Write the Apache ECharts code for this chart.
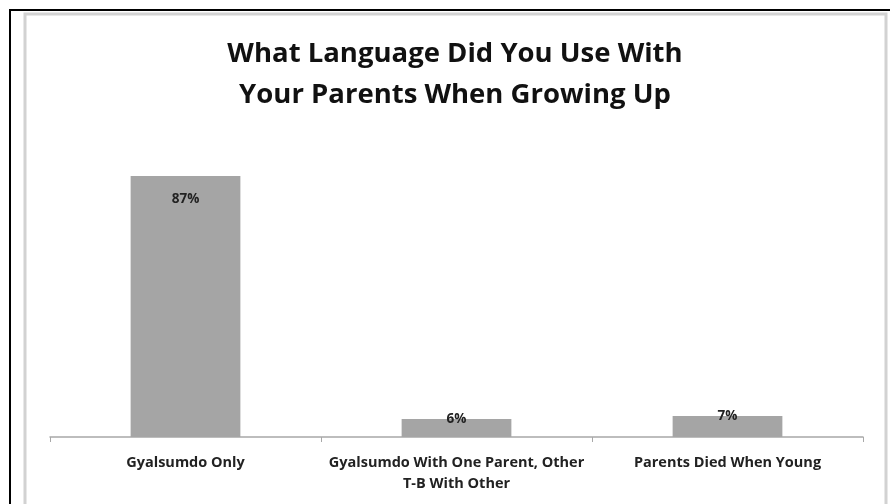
<!DOCTYPE html>
<html>
<head>
<meta charset="utf-8">
<script src="https://cdn.jsdelivr.net/npm/echarts@6/dist/echarts.min.js"></script>
<style>
html,body{margin:0;padding:0;background:#fff;}
#chart{width:890px;height:504px;}
</style>
</head>
<body>
<div id="chart"></div>
<script>
const titleText = 'What Language Did You Use With\nYour Parents When Growing Up';
const categories = ['Gyalsumdo Only', 'Gyalsumdo With One Parent, Other\nT-B With Other', 'Parents Died When Young'];
const values = [87, 6, 7];
const labelTexts = ['87%', '6%', '7%'];

const chart = echarts.init(document.getElementById('chart'));
const font = '"Open Sans", Lato, sans-serif';
chart.setOption({
  animation: false,
  backgroundColor: '#fff',
  title: {
    text: titleText,
    left: 450,
    textAlign: 'center',
    top: 29,
    textStyle: { fontFamily: font, fontSize: 27.5, fontWeight: 'bold', color: '#111', lineHeight: 41 }
  },
  grid: { left: 50, right: 27, top: 137, bottom: 67, containLabel: false },
  xAxis: {
    type: 'category',
    data: categories,
    axisLine: { lineStyle: { color: '#a8a8a8', width: 1.5 } },
    axisTick: { show: true, length: 5, lineStyle: { color: '#a8a8a8' } },
    axisLabel: { fontFamily: font, fontSize: 14.5, fontWeight: 'bold', color: '#222', margin: 15, lineHeight: 21, interval: 0 }
  },
  yAxis: {
    type: 'value', min: 0, max: 100, show: false,
    splitLine: { show: false }
  },
  series: [{
    type: 'bar',
    barWidth: '40.5%',
    itemStyle: { color: '#a5a5a5' },
    data: values.map((v, i) => ({
      value: v,
      label: {
        show: true,
        position: 'insideTop',
        distance: i === 0 ? 16 : -7,
        formatter: labelTexts[i],
        fontFamily: font, fontSize: 13.5, fontWeight: 'bold', color: '#222'
      }
    }))
  }],
  graphic: [
    { type: 'rect', shape: { x: 25, y: 14, width: 861, height: 520 }, style: { fill: 'none', stroke: '#d2d2d2', lineWidth: 3 }, silent: true },
    { type: 'line', shape: { x1: 10, y1: 10, x2: 890, y2: 10 }, style: { stroke: '#000', lineWidth: 2 }, silent: true },
    { type: 'line', shape: { x1: 10, y1: 9, x2: 10, y2: 504 }, style: { stroke: '#000', lineWidth: 2 }, silent: true }
  ]
});
</script>
</body>
</html>
